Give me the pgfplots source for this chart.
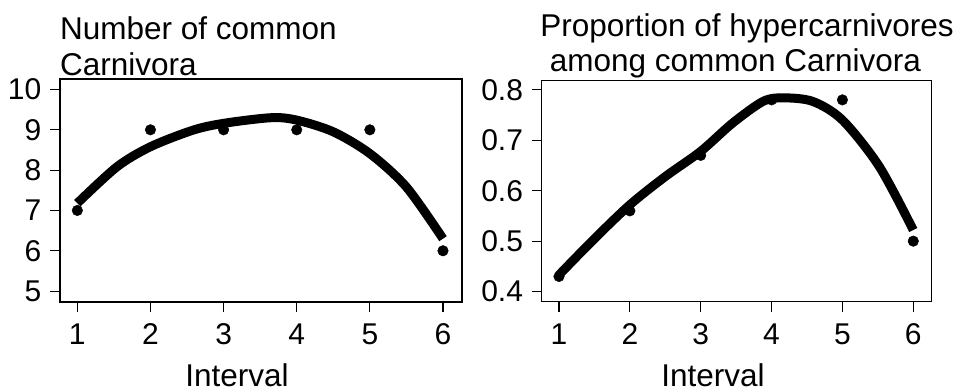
\documentclass[border=0pt]{standalone}
\usepackage{fontspec}
\setmainfont{Liberation Sans}
\usepackage{pgfplots}
\pgfplotsset{compat=1.18}
\begin{document}
\fontsize{31.5}{36}\selectfont
\begin{tikzpicture}
\useasboundingbox (0pt,0pt) rectangle (960pt,390pt);
\pgfplotsset{
  every axis/.append style={
    scale only axis,
    axis line style={line width=1.2pt},
    every tick/.style={black,line width=1.2pt},
    tick align=outside,
    major tick length=10pt,
    xtick={1,2,3,4,5,6},
    xtick pos=bottom, ytick pos=left,
    /pgf/number format/assume math mode=true,
    tick label style={font=\fontsize{30}{34}\selectfont},
    xticklabel style={yshift=-1pt},
    yticklabel style={xshift=2pt},
  }
}
\begin{axis}[
  at={(60pt,88pt)}, anchor=south west,
  width=402pt, height=223pt,
  xmin=0.763, xmax=6.26, ymin=4.73, ymax=10.26,
  ytick={5,6,7,8,9,10},
]
\addplot[black, line width=9pt, smooth, tension=0.5] coordinates {
(1,7.18) (1.54,8.08) (2,8.58) (2.58,8.99) (3,9.16) (3.65,9.30) (4,9.24) (4.5,8.95) (5,8.41) (5.5,7.58) (6,6.30)
};
\addplot[black, only marks, mark=*, mark size=5.3pt] coordinates {
(1,7) (2,9) (3,9) (4,9) (5,9) (6,6)
};
\end{axis}
\begin{axis}[
  at={(541.7pt,88.3pt)}, anchor=south west,
  width=390pt, height=221pt,
  xmin=0.756, xmax=6.26, ymin=0.380, ymax=0.818,
  ytick={0.4,0.5,0.6,0.7,0.8},
  yticklabel={\pgfmathprintnumber[fixed,fixed zerofill,precision=1]{\tick}},
]
\addplot[black, line width=9pt, smooth, tension=0.5] coordinates {
(1,0.433) (1.48,0.502) (2,0.572) (2.5,0.628) (3,0.678) (3.45,0.734) (3.88,0.777) (4.16,0.784) (4.58,0.777) (5,0.740) (5.52,0.648) (6,0.522)
};
\addplot[black, only marks, mark=*, mark size=5.3pt] coordinates {
(1,0.43) (2,0.56) (3,0.67) (4,0.78) (5,0.78) (6,0.50)
};
\end{axis}
\node[anchor=base west, inner sep=0] at (60pt,350pt) {Number of common};
\node[anchor=base west, inner sep=0] at (60pt,314pt) {Carnivora};
\node[anchor=base, inner sep=0] at (747pt,353.3pt) {Proportion of hypercarnivores};
\node[anchor=base, inner sep=0] at (735.5pt,318.3pt) {among common Carnivora};
\node[anchor=base, inner sep=0] at (237pt,3pt) {Interval};
\node[anchor=base, inner sep=0] at (713pt,3pt) {Interval};
\end{tikzpicture}
\end{document}
